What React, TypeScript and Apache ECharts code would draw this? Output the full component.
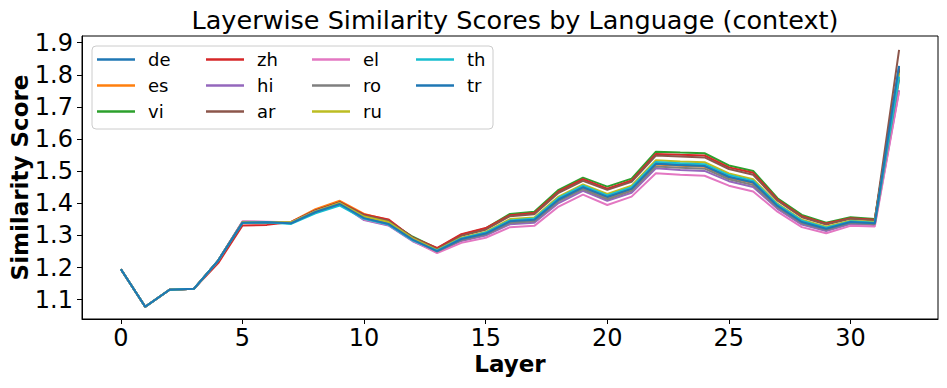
import React, { useEffect, useRef } from "react";
import * as echarts from "echarts";

const layers = Array.from({ length: 33 }, (_, i) => i);

const languages = ["de", "es", "vi", "zh", "hi", "ar", "el", "ro", "ru", "th", "tr"];
const colors = ["#1f77b4", "#ff7f0e", "#2ca02c", "#d62728", "#9467bd", "#8c564b", "#e377c2", "#7f7f7f", "#bcbd22", "#17becf", "#1f77b4"];

const de = [1.195, 1.078, 1.131, 1.134, 1.222, 1.340, 1.340, 1.339, 1.373, 1.398, 1.354, 1.336, 1.287, 1.252, 1.289, 1.307, 1.344, 1.350, 1.413, 1.451, 1.421, 1.446, 1.524, 1.520, 1.518, 1.483, 1.466, 1.393, 1.343, 1.322, 1.342, 1.338, 1.826];
const es = [1.195, 1.078, 1.131, 1.134, 1.222, 1.341, 1.341, 1.342, 1.382, 1.408, 1.367, 1.348, 1.292, 1.251, 1.288, 1.305, 1.342, 1.348, 1.411, 1.448, 1.418, 1.443, 1.521, 1.517, 1.514, 1.480, 1.463, 1.391, 1.341, 1.320, 1.341, 1.337, 1.790];
const vi = [1.195, 1.078, 1.131, 1.134, 1.222, 1.341, 1.341, 1.341, 1.377, 1.403, 1.362, 1.345, 1.296, 1.260, 1.302, 1.322, 1.367, 1.374, 1.442, 1.480, 1.452, 1.477, 1.561, 1.558, 1.556, 1.518, 1.501, 1.416, 1.364, 1.340, 1.357, 1.351, 1.815];
const zh = [1.195, 1.078, 1.131, 1.134, 1.214, 1.331, 1.333, 1.342, 1.378, 1.404, 1.365, 1.350, 1.293, 1.261, 1.304, 1.323, 1.363, 1.370, 1.437, 1.475, 1.446, 1.471, 1.554, 1.551, 1.549, 1.512, 1.495, 1.412, 1.360, 1.337, 1.354, 1.349, 1.820];
const hi = [1.195, 1.078, 1.131, 1.134, 1.222, 1.343, 1.342, 1.340, 1.374, 1.399, 1.348, 1.331, 1.282, 1.248, 1.283, 1.300, 1.335, 1.340, 1.401, 1.439, 1.408, 1.433, 1.509, 1.504, 1.501, 1.469, 1.451, 1.383, 1.334, 1.314, 1.336, 1.333, 1.752];
const ar = [1.195, 1.078, 1.131, 1.134, 1.222, 1.341, 1.341, 1.341, 1.377, 1.402, 1.363, 1.346, 1.294, 1.257, 1.299, 1.318, 1.360, 1.366, 1.433, 1.470, 1.442, 1.467, 1.549, 1.546, 1.543, 1.507, 1.489, 1.408, 1.357, 1.334, 1.352, 1.347, 1.878];
const el = [1.195, 1.078, 1.131, 1.134, 1.222, 1.344, 1.343, 1.341, 1.375, 1.400, 1.350, 1.333, 1.284, 1.245, 1.277, 1.293, 1.326, 1.330, 1.390, 1.427, 1.395, 1.421, 1.494, 1.489, 1.486, 1.455, 1.437, 1.374, 1.326, 1.307, 1.330, 1.328, 1.748];
const ro = [1.195, 1.078, 1.131, 1.134, 1.222, 1.342, 1.342, 1.340, 1.374, 1.400, 1.355, 1.338, 1.288, 1.250, 1.286, 1.303, 1.339, 1.344, 1.407, 1.444, 1.413, 1.439, 1.515, 1.511, 1.508, 1.475, 1.457, 1.387, 1.338, 1.318, 1.339, 1.335, 1.785];
const ru = [1.195, 1.078, 1.131, 1.134, 1.222, 1.341, 1.341, 1.341, 1.375, 1.401, 1.359, 1.342, 1.291, 1.254, 1.293, 1.311, 1.351, 1.356, 1.421, 1.459, 1.429, 1.455, 1.534, 1.530, 1.528, 1.493, 1.475, 1.399, 1.349, 1.327, 1.346, 1.342, 1.805];
const th = [1.195, 1.078, 1.131, 1.134, 1.222, 1.339, 1.341, 1.336, 1.369, 1.393, 1.352, 1.334, 1.285, 1.253, 1.291, 1.309, 1.347, 1.353, 1.417, 1.455, 1.425, 1.450, 1.529, 1.525, 1.522, 1.488, 1.470, 1.396, 1.346, 1.324, 1.344, 1.340, 1.795];
const tr = [1.195, 1.078, 1.131, 1.134, 1.222, 1.340, 1.341, 1.338, 1.373, 1.398, 1.354, 1.336, 1.287, 1.251, 1.289, 1.306, 1.344, 1.349, 1.412, 1.450, 1.420, 1.445, 1.523, 1.519, 1.516, 1.482, 1.465, 1.392, 1.342, 1.321, 1.342, 1.338, 1.828];

const seriesValues = [de, es, vi, zh, hi, ar, el, ro, ru, th, tr];

const xTicks = [0, 5, 10, 15, 20, 25, 30];
const yTicks = [1.1, 1.2, 1.3, 1.4, 1.5, 1.6, 1.7, 1.8, 1.9];

const legendColumns = [["de", "es", "vi"], ["zh", "hi", "ar"], ["el", "ro", "ru"], ["th", "tr"]];

const FONT = "DejaVu Sans";

export default function App() {
  const ref = useRef<HTMLDivElement>(null);
  useEffect(() => {
    if (!ref.current) return;
    const chart = echarts.init(ref.current, null, { renderer: "svg" });
    const legendLefts = [97, 206, 312, 416];
    const legends = legendColumns.map((col, i) => ({
      show: true,
      orient: "vertical",
      left: legendLefts[i],
      top: 49,
      data: col,
      icon: "rect",
      itemWidth: 38,
      itemHeight: 2.5,
      itemGap: 5,
      padding: 0,
      textStyle: { fontFamily: FONT, fontSize: 18, color: "#000", lineHeight: 21, padding: [0, 0, 0, 8] },
      selectedMode: false,
    }));
    chart.setOption({
      animation: false,
      backgroundColor: "#fff",
      title: {
        text: "Layerwise Similarity Scores by Language (context)",
        left: 510,
        top: 2,
        textAlign: "center",
        textStyle: { fontFamily: FONT, fontSize: 25.5, fontWeight: "normal", color: "#000" },
      },
      grid: {
        left: 82,
        right: 9,
        top: 36,
        bottom: 69,
        containLabel: false,
        outerBoundsMode: "none",
        show: true,
        borderColor: "#000",
        borderWidth: 1,
      },
      legend: legends,
      graphic: [
        {
          type: "rect",
          shape: { x: 92, y: 46, width: 401, height: 83, r: 4 },
          style: { fill: "rgba(255,255,255,0.8)", stroke: "#cccccc", lineWidth: 1 },
          z: 0,
        },
      ],
      xAxis: {
        type: "value",
        min: -1.6,
        max: 33.6,
        name: "Layer",
        nameLocation: "middle",
        nameGap: 33,
        nameMoveOverlap: false,
        nameTextStyle: { fontFamily: FONT, fontSize: 23, fontWeight: "bold", color: "#000" },
        axisLine: { show: true, onZero: false, lineStyle: { color: "#000", width: 1 } },
        axisTick: { show: true, customValues: xTicks, length: 5, lineStyle: { color: "#000" } },
        axisLabel: { customValues: xTicks, fontFamily: FONT, fontSize: 24, color: "#000", margin: 7 },
        splitLine: { show: false },
      },
      yAxis: {
        type: "value",
        min: 1.04,
        max: 1.921,
        name: "Similarity Score",
        nameLocation: "middle",
        nameGap: 51,
        nameMoveOverlap: false,
        nameRotate: 90,
        nameTextStyle: { fontFamily: FONT, fontSize: 23, fontWeight: "bold", color: "#000" },
        axisLine: { show: true, onZero: false, lineStyle: { color: "#000", width: 1 } },
        axisTick: { show: true, customValues: yTicks, length: 5, lineStyle: { color: "#000" } },
        axisLabel: {
          customValues: yTicks,
          fontFamily: FONT,
          fontSize: 24,
          color: "#000",
          margin: 9,
          formatter: (v: number) => v.toFixed(1),
        },
        splitLine: { show: false },
      },
      series: languages.map((name, i) => ({
        name,
        type: "line",
        data: layers.map((l) => [l, seriesValues[i][l]]),
        showSymbol: false,
        symbol: "none",
        color: colors[i],
        lineStyle: { width: 2, color: colors[i] },
        emphasis: { disabled: true },
      })),
    });
    return () => chart.dispose();
  }, []);
  return <div ref={ref} style={{ width: 947, height: 388, position: "absolute", left: 0, top: 0 }} />;
}
